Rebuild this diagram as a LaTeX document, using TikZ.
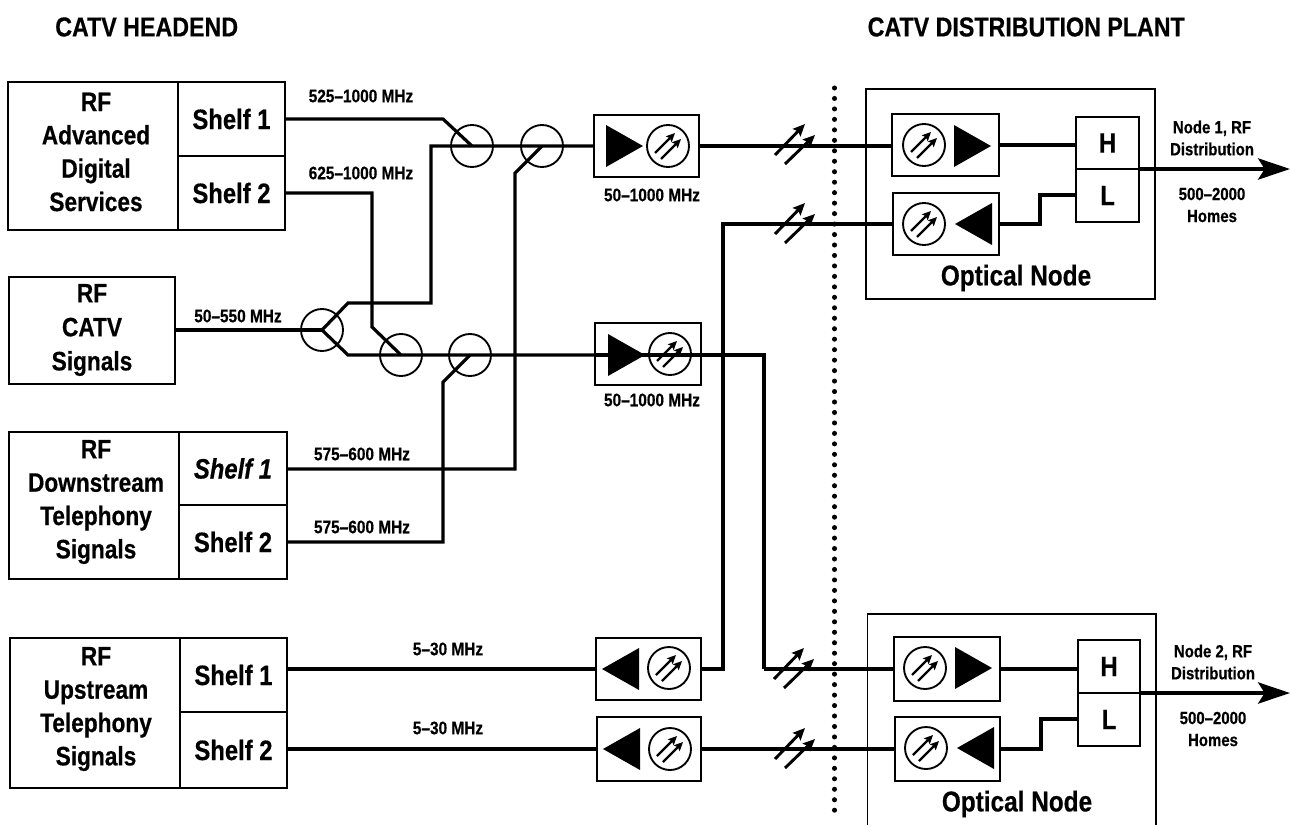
\documentclass[tikz,border=0pt]{standalone}
\usepackage{fontspec}
\setmainfont[FakeStretch=0.85,BoldFont={Liberation Sans Bold},BoldItalicFont={Liberation Sans Bold Italic},BoldFeatures={FakeBold=0.5},BoldItalicFeatures={FakeBold=0.5}]{Liberation Sans}
\usetikzlibrary{arrows.meta}
\tikzset{
  x=0.75pt,y=-0.75pt,
  thick line/.style={line width=2.4pt,black,line join=miter},
  frame/.style={draw=black,line width=1.4pt,inner sep=0pt,outer sep=0pt},
  thinframe/.style={draw=black,line width=1pt,inner sep=0pt,outer sep=0pt},
  ring/.style={circle,draw=black,line width=1.4pt,inner sep=0pt,outer sep=0pt,minimum size=31.5pt},
  lbl/.style={inner sep=0pt,font=\bfseries\fontsize{13.6}{15}\selectfont},
  side/.style={inner sep=0pt,align=center,font=\bfseries\fontsize{13.2}{16.5}\selectfont},
  big/.style={inner sep=0pt,align=center,font=\bfseries\fontsize{20}{25}\selectfont},
  cell/.style={frame,font=\bfseries\fontsize{21}{24}\selectfont},
  head/.style={inner sep=0pt,font=\bfseries\fontsize{20.5}{24}\selectfont},
  title/.style={inner sep=0pt,font=\bfseries\fontsize{21.5}{26}\selectfont},
  lam/.style={-{Stealth[length=9pt,width=8pt,inset=1.5pt]},line width=2.2pt},
  lamsmall/.style={-{Stealth[length=6.5pt,width=6pt,inset=1pt]},line width=1.7pt},
  out arrow/.style={-{Stealth[length=24pt,width=16pt,inset=5pt]},line width=2.4pt}
}
\newcommand{\bx}[6][frame]{\node[#1,minimum width={(#4-#2+0)*0.75pt},minimum height={(#5-#3+0)*0.75pt}] (#6) at ({(#2+#4)/2},{(#3+#5)/2}) {};}
\newcommand{\cellbx}[7][]{\node[cell,#1,minimum width={(#4-#2+0)*0.75pt},minimum height={(#5-#3+0)*0.75pt}] (#6) at ({(#2+#4)/2},{(#3+#5)/2}) {#7};}
% optical emitter / receiver symbol: ring with two arrows
\newcommand{\optic}[3]{%
  \node[ring] (#1) at (#2,#3) {};
  \draw[lamsmall] (#2-13,#3+7) -- (#2+7,#3-13);
  \draw[lamsmall] (#2-7,#3+13) -- (#2+13,#3-7);}
\newcommand{\slashes}[2]{%
  \draw[lam] (#1-15,#2+10) -- (#1+15,#2-21);
  \draw[lam] (#1-5,#2+19) -- (#1+25,#2-10);}
\newcommand{\triR}[2]{\fill (#1,#2-21) -- (#1+37,#2) -- (#1,#2+21) -- cycle;}
\newcommand{\triL}[2]{\fill (#1,#2-21) -- (#1-37,#2) -- (#1,#2+21) -- cycle;}
\begin{document}
\begin{tikzpicture}
\useasboundingbox (0,0) rectangle (1291,825);

% titles
\node[head,anchor=west] (t1) at (55,27) {CATV HEADEND};
\node[head,anchor=east] (t2) at (1185,27) {CATV DISTRIBUTION PLANT};

% headend blocks
\bx{8}{82}{178}{230}{a}
\node[big] (atxt) at (96,152) {RF\\Advanced\\Digital\\Services};
\cellbx{178}{82}{285}{156}{a1}{Shelf 1}
\cellbx{178}{156}{285}{230}{a2}{Shelf 2}

\bx{9}{277}{175}{384}{b}
\node[big,font=\bfseries\fontsize{20}{25.5}\selectfont] (btxt) at (92,330) {RF\\CATV\\Signals};

\bx{9}{432}{179}{579}{c}
\node[big] (ctxt) at (96,502) {RF\\Downstream\\Telephony\\Signals};
\cellbx{179}{432}{287}{505}{c1}{\itshape Shelf 1}
\cellbx{179}{505}{287}{579}{c2}{Shelf 2}

\bx{10}{638}{180}{788}{d}
\node[big] (dtxt) at (96,709) {RF\\Upstream\\Telephony\\Signals};
\cellbx{180}{638}{287}{712}{d1}{Shelf 1}
\cellbx{180}{712}{287}{788}{d2}{Shelf 2}

% combiners
\node[ring] (m1) at (472,146) {};
\node[ring] (m2) at (542,146) {};
\node[ring] (sp) at (322,330) {};
\node[ring] (m3) at (401,355) {};
\node[ring] (m4) at (470,355) {};

% amplifier / transmitter boxes, headend
\bx{594}{115}{699}{177}{tx1}
\bx{595}{323}{701}{385}{tx2}
\bx{596}{638}{701}{700}{rx1}
\bx{597}{717}{701}{781}{rx2}

% routing points
\coordinate (a1k) at (443,119);
\coordinate (a2k) at (372,193);
\coordinate (a2j) at (372,327);
\coordinate (spu) at (348,303);
\coordinate (spd) at (348,355);
\coordinate (spc) at (431,303);
\coordinate (spe) at (431,146);
\coordinate (c1k) at (515,469);
\coordinate (c1j) at (515,173);
\coordinate (c2k) at (443,542);
\coordinate (c2j) at (443,382);
\coordinate (ux1) at (723,669);
\coordinate (uy1) at (723,224);
\coordinate (dx2) at (764,354);
\coordinate (dy2) at (764,669);

% connectors, headend
\draw[thick line] (a1.east) -- (a1k) -- (m1.center);
\draw[thick line] (a2.east) -- (a2k) -- (a2j) -- (m3.center);
\draw[thick line] (b.east |- sp.center) -- (sp.center);
\draw[thick line] (sp.center) -- (spu) -- (spc) -- (spe) -- (tx1.west);
\draw[thick line] (sp.center) -- (spd) -- (tx2.west |- spd);
\draw[thick line] (c1.east |- c1k) -- (c1k) -- (c1j) -- (m2.center);
\draw[thick line] (c2.east |- c2k) -- (c2k) -- (c2j) -- (m4.center);
\draw[thick line] (d1.east |- ux1) -- (rx1.west |- ux1);
\draw[thick line] (d2.east |- rx2.west) -- (rx2.west);

% optical nodes
\bx[thinframe]{866}{89}{1155}{299}{n1}
\bx{892}{114}{999}{176}{o1}
\bx{893}{193}{999}{255}{o2}
\cellbx{1076}{117}{1139}{169}{h1}{H}
\cellbx{1076}{169}{1139}{222}{l1}{L}
\node[title] (n1t) at (1016,278) {Optical Node};

\coordinate (n2a) at (867.5,825);
\coordinate (n2b) at (1156,614);
\coordinate (n2c) at (1156,825);
\draw[thinframe] (n2a) |- (n2b) -- (n2c);
\bx{894}{637}{1000}{701}{o3}
\bx{895}{717}{1000}{781}{o4}
\cellbx{1078}{640}{1140}{693}{h2}{H}
\cellbx{1078}{693}{1140}{746}{l2}{L}
\node[title] (n2t) at (1017,804) {Optical Node};

% symbols
\triR{606}{146}
\optic{opt1}{668}{146}
\triR{608}{355}
\draw[thick line] (tx2.west |- spd) -- (dx2 |- spd) -- (dy2);
\optic{opt2}{670}{354}
\triL{639}{669}
\optic{opt3}{669}{668}
\triL{640}{749}
\optic{opt4}{670}{749}
\optic{opt5}{924}{145}
\triR{954}{146}
\optic{opt6}{924}{224}
\triL{992}{224}
\optic{opt7}{925}{668}
\triR{955}{668}
\optic{opt8}{926}{748}
\triL{994}{748}

% fibre links
\draw[thick line] (tx1.east) -- (o1.west |- tx1.east);
\draw[thick line] (rx1.east |- ux1) -- (ux1) -- (uy1) -- (o2.west |- uy1);
\draw[thick line] (dy2) -- (o3.west |- dy2);
\draw[thick line] (rx2.east) -- (o4.west |- rx2.east);
\slashes{790}{145}
\slashes{790}{224}
\slashes{789}{669}
\slashes{790}{749}

% node internals
\coordinate (k1a) at (1040,224);
\coordinate (k1b) at (1040,195);
\coordinate (k2a) at (1041,749);
\coordinate (k2b) at (1041,719);
\draw[thick line] (o1.east) -- (h1.west |- o1.east);
\draw[thick line] (o2.east |- k1a) -- (k1a) -- (k1b) -- (l1.west |- k1b);
\draw[thick line] (o3.east |- dy2) -- (h2.west |- dy2);
\draw[thick line] (o4.east |- k2a) -- (k2a) -- (k2b) -- (l2.west |- k2b);
\coordinate (out1) at (1290,169);
\coordinate (out2) at (1290,693);
\draw[out arrow] (h1.south east) -- (out1);
\draw[out arrow] (h2.south east) -- (out2);

% dotted boundary
\coordinate (dota) at (834.5,88);
\coordinate (dotb) at (834.5,820);
\draw[line width=3.8pt,line cap=round,dash pattern=on 0pt off 7.85pt] (dota) -- (dotb);

% labels
\node[lbl] (f1) at (361,96) {525–1000 MHz};
\node[lbl] (f2) at (361,173) {625–1000 MHz};
\node[lbl] (f3) at (238,316) {50–550 MHz};
\node[lbl] (f4) at (652,195) {50–1000 MHz};
\node[lbl] (f5) at (652,400) {50–1000 MHz};
\node[lbl] (f6) at (362,454) {575–600 MHz};
\node[lbl] (f7) at (362,527) {575–600 MHz};
\node[lbl] (f8) at (448,649) {5–30 MHz};
\node[lbl] (f9) at (448,728) {5–30 MHz};
\node[side] (g1) at (1212,138) {Node 1, RF\\Distribution};
\node[side] (g2) at (1212,205) {500–2000\\Homes};
\node[side] (g3) at (1213,662) {Node 2, RF\\Distribution};
\node[side] (g4) at (1213,729) {500–2000\\Homes};
\end{tikzpicture}
\end{document}
